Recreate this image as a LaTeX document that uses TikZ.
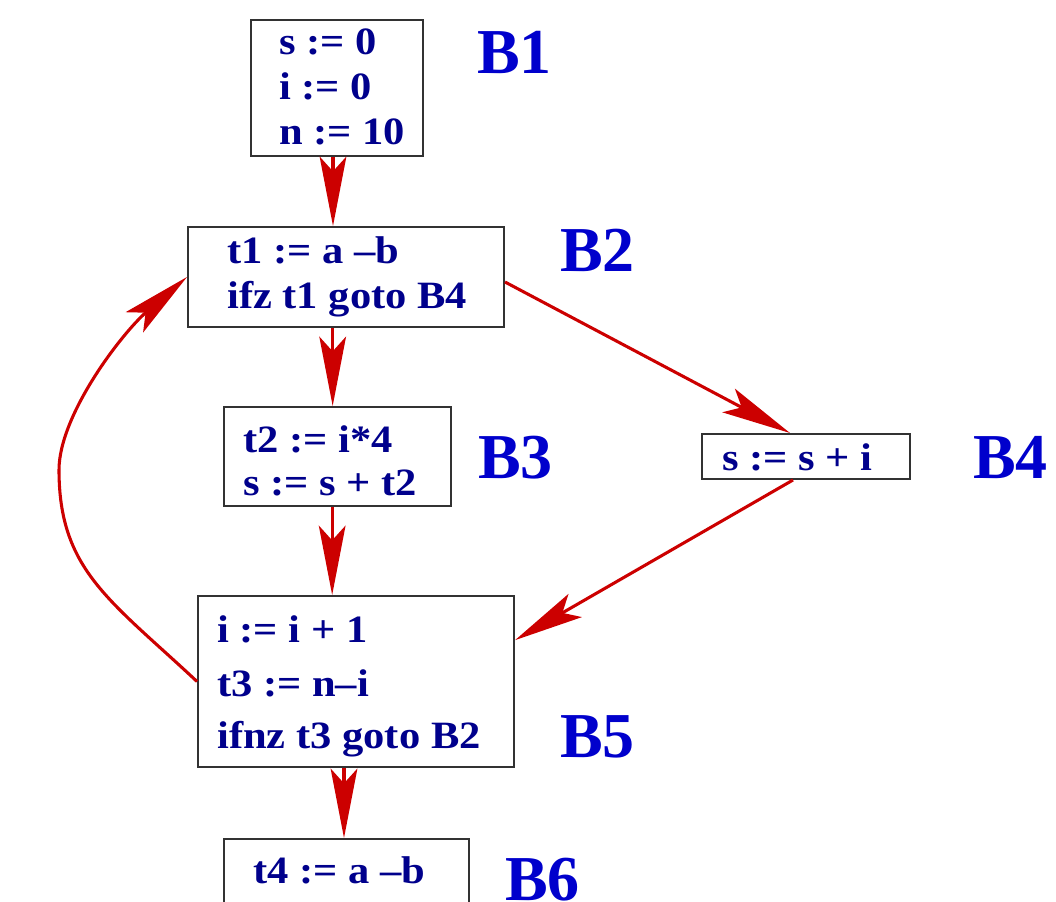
\documentclass[tikz,border=0pt]{standalone}
\usepackage{fontspec}
\setmainfont{Liberation Serif}[FakeStretch=1.1]
\newfontfamily\lblfont{Liberation Serif}
\usetikzlibrary{arrows.meta}
\definecolor{codeblue}{RGB}{0,0,140}
\definecolor{lblblue}{RGB}{0,0,204}
\definecolor{arrred}{RGB}{204,0,0}
\definecolor{boxgray}{RGB}{50,50,50}
\tikzset{
  blockbox/.style={draw=boxgray, line width=1.5pt, fill=white, rectangle, inner sep=0pt},
  codeline/.style={anchor=base west, inner sep=0pt, text=codeblue, font=\fontsize{29}{33}\selectfont\bfseries},
  blocklabel/.style={anchor=base west, inner sep=0pt, text=lblblue, font=\lblfont\fontsize{48}{50}\selectfont\bfseries},
  flow/.style={draw=arrred, line width=2.3pt, -{Stealth[length=52pt, width=20pt, inset=11pt]}},
}
\begin{document}
\begin{tikzpicture}[x=0.75pt, y=-0.75pt]
\path[use as bounding box] (0,0) rectangle (1056,902);
\clip (0,0) rectangle (1056,902);

% boxes
\node[blockbox, minimum width=129pt, minimum height=102pt] (b1) at (337,88) {};
\node[blockbox, minimum width=237pt, minimum height=75pt] (b2) at (346,277) {};
\node[blockbox, minimum width=170.25pt, minimum height=74.25pt] (b3) at (337.5,456.5) {};
\node[blockbox, minimum width=156pt, minimum height=33.75pt] (b4) at (806,456.5) {};
\node[blockbox, minimum width=237pt, minimum height=128.25pt] (b5) at (356,681.5) {};
\node[blockbox, minimum width=183.75pt, minimum height=64.5pt] (b6) at (346.5,882) {};

% code
\node[codeline] (b1a) at (279,55) {s := 0};
\node[codeline] (b1b) at (279,100) {i := 0};
\node[codeline] (b1c) at (279,145) {n := 10};
\node[codeline] (b2a) at (227,263) {t1 := a –b};
\node[codeline] (b2b) at (227,308) {ifz t1 goto B4};
\node[codeline] (b3a) at (243,452) {t2 := i*4};
\node[codeline] (b3b) at (243,495) {s := s + t2};
\node[codeline] (b4a) at (722,470) {s := s + i};
\node[codeline] (b5a) at (217,642) {i := i + 1};
\node[codeline] (b5b) at (217,696) {t3 := n–i};
\node[codeline] (b5c) at (217,748) {ifnz t3 goto B2};
\node[codeline] (b6a) at (253,883) {t4 := a –b};

% labels
\node[blocklabel] (l1) at (477,74) {B1};
\node[blocklabel] (l2) at (560,272) {B2};
\node[blocklabel] (l3) at (478,478) {B3};
\node[blocklabel] (l4) at (973,478) {B4};
\node[blocklabel] (l5) at (560,757) {B5};
\node[blocklabel] (l6) at (505,900) {B6};

% connectors
\draw[flow] ([xshift=-3pt]b1.south) -- ([xshift=-3pt]b1.south |- b2.north);
\draw[flow] ([xshift=-10pt]b2.south) -- ([xshift=-10pt]b2.south |- b3.north);
\draw[flow] ([xshift=-4pt]b3.south) -- ([xshift=-4pt]b3.south |- b5.north);
\draw[flow] ([xshift=-9pt]b5.south) -- ([xshift=-9pt]b5.south |- b6.north);
\draw[flow] ([yshift=-3.75pt]b2.east) -- ([xshift=-12pt]b4.north);
\draw[flow] ([xshift=-9.75pt]b4.south) -- ([yshift=31pt]b5.east);
\draw[flow] (b5.west) .. controls (110,600) and (59,570) .. (59,470)
  .. controls (59,415) and (122,333) .. (b2.west);
\end{tikzpicture}
\end{document}
